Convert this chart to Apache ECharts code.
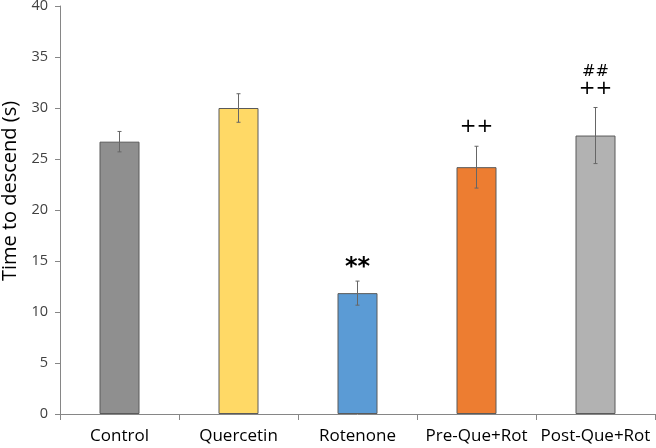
<!DOCTYPE html>
<html><head><meta charset="utf-8">
<script src="https://cdn.jsdelivr.net/npm/echarts@6/dist/echarts.min.js"></script>
<style>html,body{margin:0;padding:0;background:#fff}#c{width:656px;height:448px}</style>
</head><body><div id="c"></div>
<script>
const categories = ["Control", "Quercetin", "Rotenone", "Pre-Que+Rot", "Post-Que+Rot"];
const means = [26.7, 30.0, 11.85, 24.2, 27.3];
const errors = [1.0, 1.4, 1.18, 2.05, 2.75];
const annotations = ["", "", "**", "++", "##\n++"];
const colors = ["#8f8f8f", "#ffd966", "#5b9bd5", "#ed7d31", "#b2b2b2"];
const yTicks = [0, 5, 10, 15, 20, 25, 30, 35, 40];

const chart = echarts.init(document.getElementById('c'), null, {renderer: 'canvas'});
chart.setOption({
  animation: false,
  grid: {left: 60, right: 1, top: 6, bottom: 34, containLabel: false, outerBoundsMode: 'none'},
  xAxis: {
    type: 'category', data: categories,
    axisLine: {lineStyle: {color: '#868686', width: 1}},
    axisTick: {show: true, alignWithLabel: false, length: 6, lineStyle: {color: '#868686'}},
    axisLabel: {color: '#000', fontSize: 17, fontFamily: 'Open Sans', margin: 14, interval: 0}
  },
  yAxis: {
    type: 'value', min: yTicks[0], max: yTicks[yTicks.length - 1], interval: 5,
    name: 'Time to descend (s)', nameLocation: 'middle', nameGap: 39,
    nameTextStyle: {fontSize: 20, color: '#000', fontFamily: 'Open Sans', padding: [0, 0, 0, 38]},
    splitLine: {show: false},
    axisLine: {show: true, lineStyle: {color: '#868686'}},
    axisTick: {show: true, inside: false, length: 5, lineStyle: {color: '#868686'}},
    axisLabel: {color: '#404040', fontSize: 14.5, fontFamily: 'Open Sans', margin: 12}
  },
  series: [
    {
      type: 'bar', barWidth: 40,
      data: means.map((v, i) => ({value: v, itemStyle: {color: colors[i], borderColor: '#5a5a5a', borderWidth: 1}})),
    },
    {
      type: 'custom',
      data: means.map((v, i) => [i, v, errors[i], annotations[i]]),
      renderItem: function (params, api) {
        const x = api.value(0), m = api.value(1), e = api.value(2);
        const top = api.coord([x, m + e]);
        const bot = api.coord([x, m - e]);
        const cap = 2;
        const children = [
          {type: 'line', shape: {x1: top[0], y1: top[1], x2: bot[0], y2: bot[1]}, style: {stroke: '#666', lineWidth: 1}},
          {type: 'line', shape: {x1: top[0] - cap, y1: top[1], x2: top[0] + cap, y2: top[1]}, style: {stroke: '#666', lineWidth: 1}},
          {type: 'line', shape: {x1: bot[0] - cap, y1: bot[1], x2: bot[0] + cap, y2: bot[1]}, style: {stroke: '#666', lineWidth: 1}}
        ];
        const ann = annotations[params.dataIndex];
        if (ann) {
          const lines = ann.split('\n');
          const n = lines.length;
          lines.forEach((t, k) => {
            const isHash = t.indexOf('#') >= 0;
            const isStar = t.indexOf('*') >= 0;
            const cy = top[1] - 19 - (n - 1 - k) * 17 + (isStar ? 6 : 0);
            children.push({
              type: 'text',
              style: {
                text: t, x: top[0], y: cy,
                align: 'center', verticalAlign: 'middle',
                fontSize: isStar ? 24 : (isHash ? 16 : 20),
                fontFamily: 'DejaVu Sans', fill: '#000',
                fontWeight: isStar ? 'bold' : 'normal'
              }
            });
          });
        }
        return {type: 'group', children: children};
      },
      z: 10
    }
  ]
});
</script></body></html>
